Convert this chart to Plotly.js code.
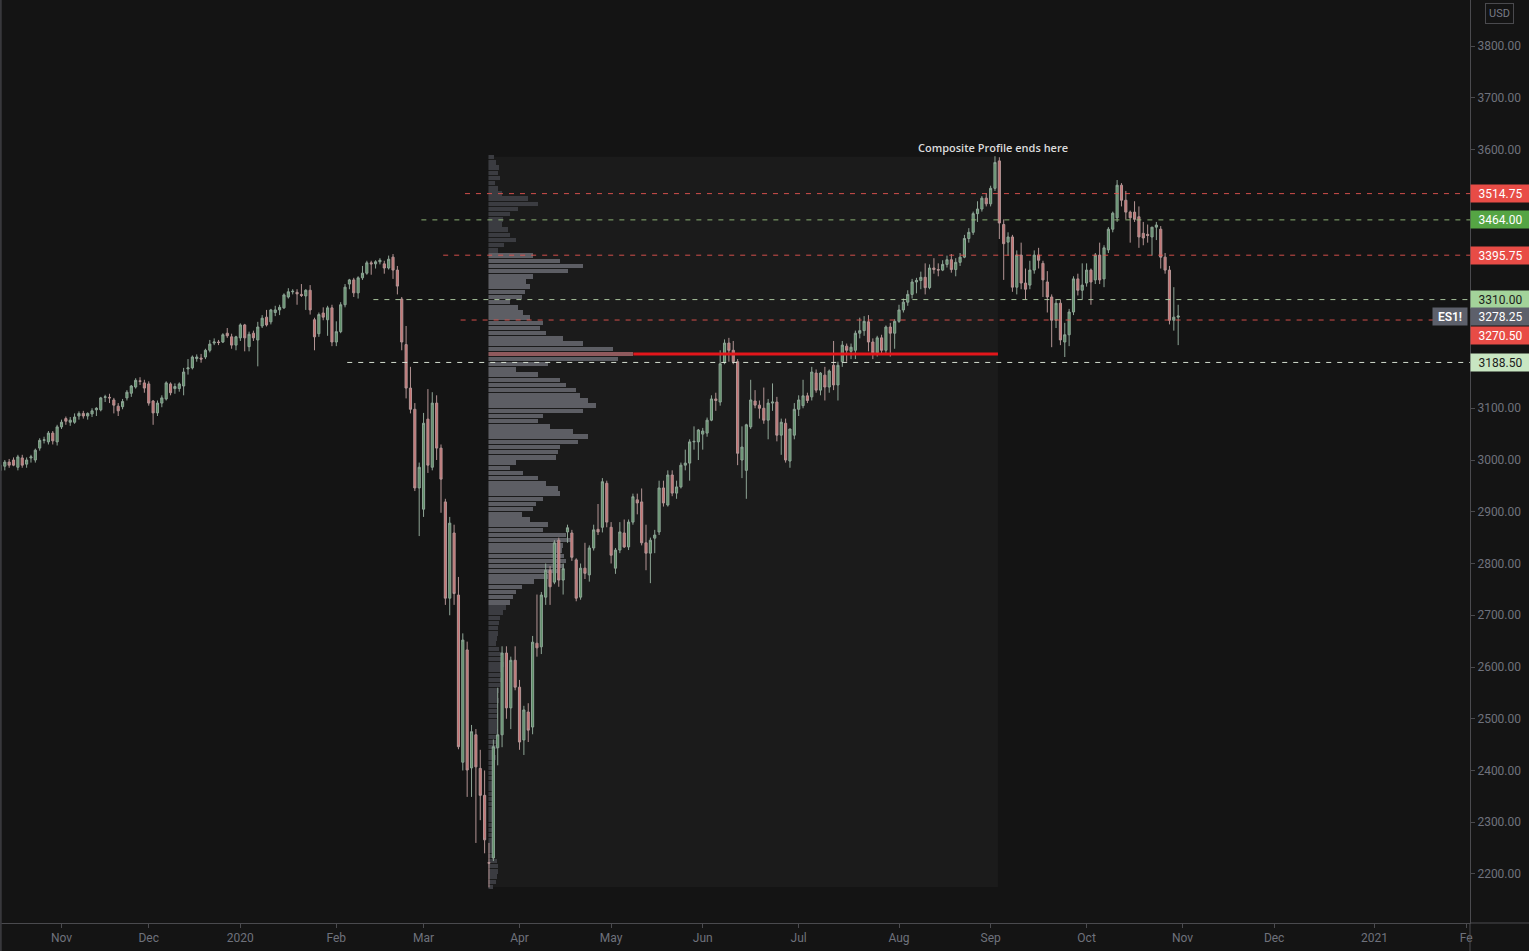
<!DOCTYPE html>
<html>
<head>
<meta charset="utf-8">
<script src="https://cdn.plot.ly/plotly-3.0.1.min.js"></script>
<style>
html,body{margin:0;padding:0;background:#141414;overflow:hidden}
#chart{width:1529px;height:951px}
</style>
</head>
<body>
<div id="chart"></div>
<script>
// ---------- Daily ES1! candles ----------
const dates = [
 '2019-10-14','2019-10-15','2019-10-16','2019-10-17','2019-10-18','2019-10-21','2019-10-22','2019-10-23','2019-10-24','2019-10-25','2019-10-28','2019-10-29','2019-10-30','2019-10-31',
 '2019-11-01','2019-11-04','2019-11-05','2019-11-06','2019-11-07','2019-11-08','2019-11-11','2019-11-12','2019-11-13','2019-11-14','2019-11-15','2019-11-18','2019-11-19','2019-11-20','2019-11-21','2019-11-22','2019-11-25','2019-11-26','2019-11-27','2019-11-29',
 '2019-12-02','2019-12-03','2019-12-04','2019-12-05','2019-12-06','2019-12-09','2019-12-10','2019-12-11','2019-12-12','2019-12-13','2019-12-16','2019-12-17','2019-12-18','2019-12-19','2019-12-20','2019-12-23','2019-12-24','2019-12-26','2019-12-27','2019-12-30','2019-12-31',
 '2020-01-02','2020-01-03','2020-01-06','2020-01-07','2020-01-08','2020-01-09','2020-01-10','2020-01-13','2020-01-14','2020-01-15','2020-01-16','2020-01-17','2020-01-20','2020-01-21','2020-01-22','2020-01-23','2020-01-24','2020-01-27','2020-01-28','2020-01-29','2020-01-30','2020-01-31',
 '2020-02-03','2020-02-04','2020-02-05','2020-02-06','2020-02-07','2020-02-10','2020-02-11','2020-02-12','2020-02-13','2020-02-14','2020-02-17','2020-02-18','2020-02-19','2020-02-20','2020-02-21','2020-02-24','2020-02-25','2020-02-26','2020-02-27','2020-02-28',
 '2020-03-02','2020-03-03','2020-03-04','2020-03-05','2020-03-06','2020-03-09','2020-03-10','2020-03-11','2020-03-12','2020-03-13','2020-03-16','2020-03-17','2020-03-18','2020-03-19','2020-03-20','2020-03-23','2020-03-24','2020-03-25','2020-03-26','2020-03-27','2020-03-30','2020-03-31',
 '2020-04-01','2020-04-02','2020-04-03','2020-04-06','2020-04-07','2020-04-08','2020-04-09','2020-04-13','2020-04-14','2020-04-15','2020-04-16','2020-04-17','2020-04-20','2020-04-21','2020-04-22','2020-04-23','2020-04-24','2020-04-27','2020-04-28','2020-04-29','2020-04-30',
 '2020-05-01','2020-05-04','2020-05-05','2020-05-06','2020-05-07','2020-05-08','2020-05-11','2020-05-12','2020-05-13','2020-05-14','2020-05-15','2020-05-18','2020-05-19','2020-05-20','2020-05-21','2020-05-22','2020-05-25','2020-05-26','2020-05-27','2020-05-28','2020-05-29',
 '2020-06-01','2020-06-02','2020-06-03','2020-06-04','2020-06-05','2020-06-08','2020-06-09','2020-06-10','2020-06-11','2020-06-12','2020-06-15','2020-06-16','2020-06-17','2020-06-18','2020-06-19','2020-06-22','2020-06-23','2020-06-24','2020-06-25','2020-06-26','2020-06-29','2020-06-30',
 '2020-07-01','2020-07-02','2020-07-03','2020-07-06','2020-07-07','2020-07-08','2020-07-09','2020-07-10','2020-07-13','2020-07-14','2020-07-15','2020-07-16','2020-07-17','2020-07-20','2020-07-21','2020-07-22','2020-07-23','2020-07-24','2020-07-27','2020-07-28','2020-07-29','2020-07-30','2020-07-31',
 '2020-08-03','2020-08-04','2020-08-05','2020-08-06','2020-08-07','2020-08-10','2020-08-11','2020-08-12','2020-08-13','2020-08-14','2020-08-17','2020-08-18','2020-08-19','2020-08-20','2020-08-21','2020-08-24','2020-08-25','2020-08-26','2020-08-27','2020-08-28','2020-08-31',
 '2020-09-01','2020-09-02','2020-09-03','2020-09-04','2020-09-07','2020-09-08','2020-09-09','2020-09-10','2020-09-11','2020-09-14','2020-09-15','2020-09-16','2020-09-17','2020-09-18','2020-09-21','2020-09-22','2020-09-23','2020-09-24','2020-09-25','2020-09-28','2020-09-29','2020-09-30',
 '2020-10-01','2020-10-02','2020-10-05','2020-10-06','2020-10-07','2020-10-08','2020-10-09','2020-10-12','2020-10-13','2020-10-14','2020-10-15','2020-10-16','2020-10-19','2020-10-20','2020-10-21','2020-10-22','2020-10-23','2020-10-26','2020-10-27','2020-10-28','2020-10-29','2020-10-30'
];
const open = [
 2980,2988,2996,3000,2986,3004,2992,3004,3000,3023,3038,3035,3052,3035,
 3064,3080,3073,3073,3085,3090,3085,3089,3097,3097,3121,3121,3116,3104,3103,3120,3129,3141,3153,3149,
 3147,3114,3091,3110,3118,3147,3138,3138,3143,3176,3178,3196,3197,3199,3212,3226,3228,3228,3245,3238,3222,
 3236,3261,3219,3245,3232,3259,3276,3267,3285,3290,3294,3315,3325,3324,3320,3317,3328,3271,3244,3284,3271,3294,
 3228,3248,3300,3340,3348,3323,3352,3361,3381,3379,3383,3379,3371,3392,3367,3311,3223,3139,3098,2946,
 2905,3079,2986,3110,3023,2919,2733,2859,2739,2416,2633,2405,2469,2404,2352,2222,2231,2444,2469,2627,2521,2613,
 2561,2459,2513,2484,2646,2639,2735,2787,2764,2845,2768,2861,2859,2807,2735,2791,2778,2830,2866,2870,2955,
 2870,2791,2826,2859,2832,2880,2923,2919,2840,2820,2849,2861,2946,2913,2971,2936,2948,2990,2994,3035,3035,
 3050,3052,3077,3118,3112,3188,3226,3212,3190,3000,2980,3064,3114,3106,3100,3077,3110,3112,3048,3071,2998,3048,
 3098,3105,3124,3122,3168,3135,3164,3141,3183,3145,3190,3220,3210,3212,3245,3250,3267,3228,3207,3236,3212,3257,3245,
 3268,3290,3305,3320,3344,3347,3353,3333,3371,3368,3367,3378,3387,3368,3382,3392,3428,3440,3476,3485,3506,
 3495,3525,3578,3455,3421,3431,3334,3396,3342,3338,3367,3396,3380,3344,3315,3270,3303,3228,3242,3286,3350,3328,
 3342,3367,3348,3396,3350,3406,3446,3468,3531,3502,3479,3479,3470,3438,3436,3431,3450,3446,3392,3367,3270,3276
];
const high = [
 2998,3000,3002,3005,3010,3010,3005,3010,3022,3042,3045,3056,3056,3068,
 3078,3084,3083,3090,3094,3095,3092,3100,3102,3122,3126,3128,3120,3110,3118,3135,3145,3158,3160,3155,
 3152,3116,3115,3125,3152,3150,3148,3150,3178,3195,3202,3204,3205,3215,3232,3235,3232,3245,3255,3244,3240,
 3264,3263,3248,3250,3267,3280,3290,3292,3298,3300,3322,3332,3330,3330,3340,3330,3338,3275,3285,3295,3298,3300,
 3268,3305,3340,3350,3352,3355,3375,3385,3385,3386,3390,3385,3395,3398,3375,3315,3259,3180,3110,2995,
 3091,3137,3131,3125,3030,2925,2890,2875,2774,2665,2649,2488,2480,2440,2400,2260,2460,2560,2640,2640,2620,2640,
 2575,2525,2530,2660,2740,2745,2800,2795,2845,2850,2800,2875,2865,2810,2800,2840,2835,2875,2915,2965,2960,
 2880,2830,2880,2885,2885,2935,2935,2945,2875,2850,2865,2960,2960,2980,2980,2960,2995,3020,3040,3065,3060,
 3062,3082,3125,3130,3212,3233,3236,3230,3195,3065,3070,3155,3135,3115,3140,3118,3148,3122,3080,3080,3060,3110,
 3125,3155,3130,3180,3175,3170,3180,3175,3230,3190,3230,3225,3225,3250,3275,3278,3280,3235,3240,3242,3260,3265,3272,
 3300,3312,3328,3350,3352,3364,3380,3378,3390,3380,3386,3395,3398,3390,3400,3435,3448,3480,3500,3510,3515,
 3530,3587,3585,3465,3440,3435,3405,3420,3370,3385,3405,3410,3385,3365,3320,3310,3310,3265,3292,3355,3360,3380,
 3380,3370,3400,3420,3415,3450,3480,3541,3535,3520,3482,3500,3490,3460,3455,3450,3460,3452,3400,3375,3334,3300
];
const low = [
 2972,2980,2985,2988,2980,2985,2985,2995,2995,3018,3032,3030,3030,3028,
 3060,3068,3066,3070,3078,3080,3078,3083,3085,3094,3112,3110,3090,3085,3098,3115,3122,3138,3145,3130,
 3105,3068,3085,3102,3115,3125,3128,3132,3125,3165,3175,3190,3188,3195,3208,3222,3222,3226,3236,3215,3212,
 3230,3210,3210,3230,3181,3255,3258,3262,3278,3280,3292,3312,3320,3300,3315,3290,3281,3212,3238,3270,3240,3220,
 3220,3245,3295,3330,3315,3312,3348,3358,3358,3370,3378,3360,3368,3350,3320,3212,3119,3090,2940,2853,
 2890,2975,2980,3000,2898,2720,2700,2720,2441,2400,2349,2349,2260,2304,2240,2174,2225,2410,2445,2500,2480,2555,
 2440,2430,2455,2470,2620,2625,2720,2720,2760,2755,2740,2840,2805,2727,2730,2770,2765,2825,2855,2860,2870,
 2800,2780,2820,2830,2826,2875,2895,2835,2787,2762,2820,2855,2910,2910,2930,2925,2945,2980,2960,3020,3000,
 3020,3045,3075,3095,3105,3185,3190,3185,2990,2965,2925,3060,3100,3080,3070,3040,3095,3036,3010,2995,2985,3040,
 3085,3100,3110,3115,3130,3125,3115,3130,3135,3115,3180,3190,3195,3195,3235,3240,3210,3195,3200,3205,3205,3200,3215,
 3265,3285,3298,3312,3322,3330,3320,3330,3360,3355,3365,3372,3362,3355,3375,3390,3420,3435,3460,3480,3490,
 3490,3520,3427,3348,3395,3325,3320,3330,3310,3330,3360,3370,3315,3285,3218,3255,3222,3199,3220,3280,3318,3310,
 3335,3300,3340,3340,3334,3400,3440,3460,3490,3465,3420,3460,3410,3415,3420,3395,3425,3370,3360,3262,3250,3222
];
const close = [
 2990,2996,2990,2990,3006,2990,3000,3006,3019,3038,3039,3052,3037,3064,
 3073,3075,3077,3083,3090,3085,3090,3095,3100,3120,3122,3120,3106,3095,3113,3131,3143,3154,3152,3139,
 3110,3091,3110,3120,3149,3130,3142,3147,3170,3178,3199,3199,3195,3212,3224,3228,3227,3242,3240,3222,3238,
 3261,3236,3243,3236,3257,3274,3261,3290,3290,3295,3319,3325,3326,3321,3318,3328,3290,3238,3281,3276,3294,3228,
 3248,3300,3334,3348,3323,3352,3361,3381,3379,3383,3386,3371,3388,3367,3336,3228,3139,3098,2946,2986,
 3071,2990,3110,3023,2963,2733,2878,2742,2446,2652,2401,2475,2407,2352,2266,2221,2446,2469,2627,2521,2613,2561,
 2455,2517,2478,2648,2637,2739,2787,2755,2840,2768,2790,2869,2812,2733,2791,2781,2830,2865,2861,2958,2880,
 2816,2826,2861,2832,2880,2929,2917,2840,2820,2845,2855,2946,2917,2971,2936,2948,2990,2994,3035,3036,3058,
 3056,3077,3118,3115,3186,3226,3212,3190,3013,3025,3068,3116,3106,3100,3077,3110,3112,3048,3073,3000,3060,3098,
 3116,3124,3115,3170,3135,3168,3141,3172,3145,3183,3222,3212,3218,3245,3250,3268,3228,3207,3236,3212,3257,3245,3268,
 3290,3305,3320,3344,3347,3353,3333,3371,3368,3367,3378,3387,3368,3382,3392,3428,3440,3476,3485,3506,3495,
 3525,3575,3458,3418,3431,3334,3396,3342,3330,3367,3396,3386,3348,3315,3270,3303,3232,3242,3286,3350,3328,3338,
 3367,3344,3396,3348,3410,3446,3477,3531,3502,3479,3468,3465,3431,3429,3434,3450,3454,3392,3367,3270,3276,3278.25
];

// Sessions without a bar
const holidays = ['2019-11-28','2019-12-25','2020-01-01','2020-04-10'];

// Time-axis labels
const monthTicks = ['2019-11-01','2019-12-02','2020-01-02','2020-02-03','2020-03-02','2020-04-01','2020-05-01','2020-06-01',
                    '2020-07-01','2020-08-03','2020-09-01','2020-10-01','2020-11-02','2020-12-01','2021-01-01','2021-02-01'];
const monthLabels = ['Nov','Dec','2020','Feb','Mar','Apr','May','Jun','Jul','Aug','Sep','Oct','Nov','Dec','2021','Fe'];

// Price-axis ticks (the ones hidden behind level labels are left blank)
const priceTicks = [2200,2300,2400,2500,2600,2700,2800,2900,3000,3100,3200,3300,3400,3500,3600,3700,3800];
const hiddenPriceTicks = [3200,3300,3400,3500];

// ---------- Composite volume profile (10-pt rows) ----------
const profilePrice = [
 3585,3575,3565,3555,3545,3535,3525,3515,3505,3495,3485,3475,3465,3455,3445,3435,3425,3415,3405,
 3395,3385,3375,3365,3355,3345,3335,3325,3315,3305,3295,3285,3275,3265,3255,3245,3235,3225,3215,3205,3195,3185,3175,
 3165,3155,3145,3135,3125,3115,3105,3095,3085,3075,3065,3055,3045,3035,3025,3015,3005,2995,2985,2975,2965,2955,2945,
 2935,2925,2915,2905,2895,2885,2875,2865,2855,2845,2835,2825,2815,2805,2795,2785,2775,2765,2755,2745,2735,2725,
 2715,2705,2695,2685,2675,2665,2655,2645,2635,2625,2615,2605,2595,2585,2575,2565,2555,2545,2535,2525,2515,2505,
 2495,2485,2475,2465,2455,2445,2435,2425,2415,2405,2395,2385,2375,2365,2355,2345,2335,2325,2315,2305,2295,2285,
 2275,2265,2255,2245,2235,2225,2215,2205,2195,2185,2175
];
const profileVolume = [
 6,8,11,10,12,7,10,14,40,50,30,22,15,14,20,22,28,16,10,
 45,72,95,80,45,38,42,37,34,22,30,35,42,55,52,58,75,95,125,145,130,60,28,
 50,72,78,88,92,100,108,95,55,50,62,85,100,90,72,70,68,28,22,35,50,58,70,
 72,55,48,45,34,42,60,55,78,84,75,74,76,78,76,72,60,46,34,28,25,22,
 18,15,12,11,10,10,9,8,11,13,14,16,14,12,13,12,11,10,11,10,9,10,
 9,9,10,9,8,9,7,8,7,7,6,6,6,5,5,5,5,4,4,4,4,4,
 5,5,6,6,7,9,10,10,9,8,5
];
const valueAreaHigh = 3395.75;
const valueAreaLow = 2725;
const pocPrice = 3205;
const profileTop = 3586;
const profileBottom = 2175;

// ---------- Key levels ----------
const levelPrice = [3514.75, 3464.00, 3395.75, 3310.00, 3270.50, 3188.50];
const levelStart = ['2020-03-16','2020-03-02','2020-03-09','2020-02-14','2020-03-13','2020-02-06'];
const levelKind  = ['red','green','red','lightgreen','red','pale'];
const lastPrice = close[close.length - 1];

// ---------- styles ----------
const styles = {
  red:        {line:'rgba(228,84,80,0.9)',   bg:'#e84c46', text:'#ffffff'},
  green:      {line:'rgba(150,192,125,0.9)', bg:'#55a544', text:'#ffffff'},
  lightgreen: {line:'rgba(182,212,168,0.9)', bg:'#a3d39a', text:'#1c1c1c'},
  pale:       {line:'rgba(222,232,218,0.95)', bg:'#c8e6c2', text:'#1c1c1c'}
};
const axisColor = '#4a4a4e';
const tickColor = '#6f727c';
const xStart = '2019-10-14 09:36';
const xEnd = '2021-02-02 09:36';

const xs = dates.map(d => d + ' 12:00');

const barColors = profilePrice.map(p =>
  p === pocPrice ? '#8f5a5d' : (p <= valueAreaHigh && p >= valueAreaLow ? '#5d5e64' : '#3b3c41'));
const pocVolume = profileVolume[profilePrice.indexOf(pocPrice)];

const traces = [
  {
    type:'bar', orientation:'h', xaxis:'x', yaxis:'y',
    x: profileVolume, y: profilePrice, width: 8.6,
    marker:{color: barColors, line:{width:0}},
    hoverinfo:'skip', showlegend:false
  },
  {
    type:'candlestick', xaxis:'x2', yaxis:'y',
    x: xs, open: open, high: high, low: low, close: close,
    increasing:{line:{color:'#8ea596', width:1}, fillcolor:'#5e9068'},
    decreasing:{line:{color:'#b39494', width:1}, fillcolor:'#c77373'},
    whiskerwidth:0, hoverinfo:'skip', showlegend:false
  }
];

const shapes = [
  {type:'rect', xref:'x domain', yref:'y', x0:0, x1:1, y0:profileBottom, y1:profileTop,
   fillcolor:'#1b1b1b', line:{width:0}, layer:'below'},
  {type:'line', xref:'x', yref:'y', x0:pocVolume, x1:510, y0:pocPrice, y1:pocPrice,
   line:{color:'#e3161b', width:3}, layer:'above'},
  {type:'line', xref:'paper', yref:'paper', x0:0.0005, x1:0.0005, y0:-0.031, y1:1, line:{color:'#38383c', width:2}},
  {type:'line', xref:'paper', yref:'paper', x0:1, x1:1, y0:-0.031, y1:0, line:{color:axisColor, width:1}},
  {type:'line', xref:'paper', yref:'paper', x0:1, x1:1.041, y0:0, y1:0, line:{color:axisColor, width:1}}
];
levelPrice.forEach((p, i) => {
  shapes.push({type:'line', xref:'x2', yref:'y', x0:levelStart[i] + ' 00:00', x1:xEnd, y0:p, y1:p,
    line:{color:styles[levelKind[i]].line, width:1, dash:'5px,6px'}, layer:'above'});
});

const labelFont = 'Roboto, "Open Sans", sans-serif';
const annotations = [];
levelPrice.forEach((p, i) => {
  const s = styles[levelKind[i]];
  annotations.push({xref:'paper', yref:'y', x:1, y:p, xanchor:'left', yanchor:'middle',
    yshift: p === 3270.50 ? -15 : 0,
    text:p.toFixed(2), showarrow:false, bgcolor:s.bg, width:55, height:13, borderpad:2, align:'center',
    font:{family:labelFont, size:12, color:s.text}});
});
annotations.push({xref:'paper', yref:'y', x:1, y:lastPrice, xanchor:'left', yanchor:'middle',
  text:lastPrice.toFixed(2), showarrow:false, bgcolor:'#5d606b', width:55, height:13, borderpad:2, align:'center',
  font:{family:labelFont, size:12, color:'#ffffff'}});
annotations.push({xref:'paper', yref:'y', x:1, y:lastPrice, xanchor:'right', yanchor:'middle', xshift:-2,
  text:'ES1!', showarrow:false, bgcolor:'#5d606b', width:30, height:13, borderpad:2, align:'center',
  font:{family:labelFont, size:12, color:'#ffffff', weight:600}});
annotations.push({xref:'paper', yref:'paper', x:1.0201, y:0.985, xanchor:'center', yanchor:'middle',
  text:'USD', showarrow:false, bordercolor:'#4a4a4e', borderwidth:1, borderpad:3,
  font:{family:labelFont, size:11, color:'#787b86'}});
annotations.push({xref:'x domain', yref:'y', x:1, y:profileTop, xanchor:'center', yanchor:'bottom', xshift:-5,
  text:'Composite Profile ends here', showarrow:false,
  font:{family:'"Open Sans", sans-serif', size:11, color:'#dcdcdc', weight:600}});

const layout = {
  width:1529, height:951,
  margin:{l:0, r:59, t:0, b:28, pad:0},
  paper_bgcolor:'#141414', plot_bgcolor:'rgba(0,0,0,0)',
  font:{family:labelFont, color:tickColor},
  showlegend:false, hovermode:false, bargap:0,
  xaxis:{domain:[0.3323, 0.6789], anchor:'y', range:[0, 510], visible:false, fixedrange:true},
  xaxis2:{
    type:'date', domain:[0,1], anchor:'y', range:[xStart, xEnd],
    rangebreaks:[{bounds:['sat','mon']}, {values:holidays}],
    rangeslider:{visible:false},
    tickmode:'array', tickvals: monthTicks.map(d => d + ' 12:00'), ticktext: monthLabels,
    showgrid:false, zeroline:false, showline:true, linecolor:axisColor, linewidth:1,
    ticks:'outside', ticklen:4, tickcolor:axisColor,
    tickfont:{family:labelFont, size:12, color:tickColor}
  },
  yaxis:{
    anchor:'x2', side:'right', range:[2105.3, 3888.9],
    tickmode:'array', tickvals: priceTicks,
    ticktext: priceTicks.map(v => hiddenPriceTicks.includes(v) ? '' : v.toFixed(2)),
    showgrid:false, zeroline:false, showline:true, linecolor:axisColor, linewidth:1,
    ticks:'outside', ticklen:4, tickcolor:axisColor,
    tickfont:{family:labelFont, size:12, color:tickColor}
  },
  shapes: shapes,
  annotations: annotations
};

Plotly.newPlot('chart', traces, layout, {displayModeBar:false, staticPlot:true});
</script>
</body>
</html>
